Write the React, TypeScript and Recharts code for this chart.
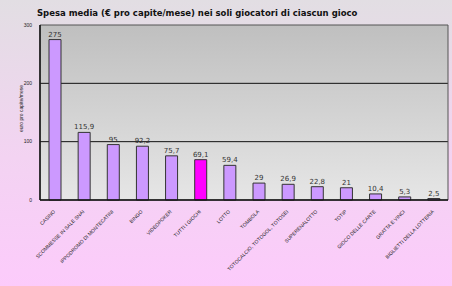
import { Bar, BarChart, CartesianGrid, Cell, LabelList, ReferenceArea, XAxis, YAxis } from "recharts";

const categories = [
  "CASINO",
  "SCOMMESSE  IN  SALE  SNAI",
  "IPPODROMO DI MONTECATINI",
  "BINGO",
  "VIDEOPOKER",
  "TUTTI I GIOCHI",
  "LOTTO",
  "TOMBOLA",
  "TOTOCALCIO, TOTOGOL, TOTOSEI",
  "SUPERENALOTTO",
  "TOTIP",
  "GIOCO DELLE CARTE",
  "GRATTA E VINCI",
  "BIGLIETTI DELLA LOTTERIA",
];
const spesa = [275, 115.9, 95, 92.2, 75.7, 69.1, 59.4, 29, 26.9, 22.8, 21, 10.4, 5.3, 2.5];
const highlighted = ["TUTTI I GIOCHI"];
const yTicks = [0, 100, 200, 300];
const gridValues = [100, 200];

const data = categories.map((name, i) => ({ name, value: spesa[i] }));

const fmt = (v: number) => String(v).replace(".", ",");

function XTick({ x, y, payload }: any) {
  return (
    <g transform={`translate(${x + 1},${y + 4})`}>
      <text
        textAnchor="end"
        transform="rotate(-45)"
        fontSize={5}
        fontFamily="Liberation Sans, Arial, sans-serif"
        fill="#222"
      >
        {payload.value}
      </text>
    </g>
  );
}

function YLabel({ viewBox }: any) {
  const cx = viewBox.x + 21;
  const cy = viewBox.y + viewBox.height / 2 - 4;
  return (
    <text
      x={cx}
      y={cy}
      transform={`rotate(-90 ${cx} ${cy})`}
      textAnchor="middle"
      dominantBaseline="central"
      fontSize={5}
      fill="#222"
      fontFamily="Liberation Sans, Arial, sans-serif"
    >
      euro pro capite/mese
    </text>
  );
}

export default function App() {
  return (
    <div
      style={{
        position: "relative",
        width: 452,
        height: 286,
        background: "linear-gradient(to bottom, #e2dee3 0%, #f3d3f2 55%, #fccbfb 100%)",
        overflow: "hidden",
      }}
    >
      <style>{"body{margin:0}"}</style>
      <div
        style={{
          position: "absolute",
          left: 37,
          top: 8,
          fontFamily: "DejaVu Sans, Verdana, sans-serif",
          fontWeight: "bold",
          fontSize: 8.5,
          color: "#111",
          whiteSpace: "nowrap",
        }}
      >
        Spesa media (€ pro capite/mese) nei soli giocatori di ciascun gioco
      </div>
      <BarChart
        width={452}
        height={286}
        data={data}
        margin={{ top: 25, right: 4, bottom: 6, left: 0 }}
        barCategoryGap={0}
      >
        <defs>
          <linearGradient id="plotBg" x1="0" y1="0" x2="0" y2="1">
            <stop offset="0%" stopColor="#bfbfbf" />
            <stop offset="100%" stopColor="#e6e6e6" />
          </linearGradient>
        </defs>
        <CartesianGrid
          vertical={false}
          horizontalValues={gridValues}
          stroke="#111"
          strokeWidth={1}
          fill="url(#plotBg)"
          fillOpacity={1}
        />
        <ReferenceArea y1={0} y2={300} fill="none" fillOpacity={0} stroke="#555" strokeWidth={1} ifOverflow="visible" />
        <XAxis
          dataKey="name"
          interval={0}
          height={80}
          tick={<XTick />}
          tickLine={false}
          axisLine={{ stroke: "#111", strokeWidth: 1.5 }}
        />
        <YAxis
          width={40}
          domain={[0, 300]}
          ticks={yTicks}
          tickLine={false}
          axisLine={{ stroke: "#111", strokeWidth: 1.5 }}
          tick={{ fontSize: 5, fill: "#222", fontFamily: "Liberation Sans, Arial, sans-serif" }}
          tickMargin={2}
          label={<YLabel />}
        />
        <Bar dataKey="value" barSize={12} stroke="#333" strokeWidth={1} isAnimationActive={false}>
          {data.map((d) => (
            <Cell key={d.name} fill={highlighted.includes(d.name) ? "#ff00ff" : "#cc99ff"} />
          ))}
          <LabelList
            dataKey="value"
            position="top"
            offset={3}
            formatter={(v: any) => fmt(Number(v))}
            style={{ fontSize: 7, fill: "#333", fontFamily: "DejaVu Sans, Verdana, sans-serif" }}
          />
        </Bar>
      </BarChart>
    </div>
  );
}
